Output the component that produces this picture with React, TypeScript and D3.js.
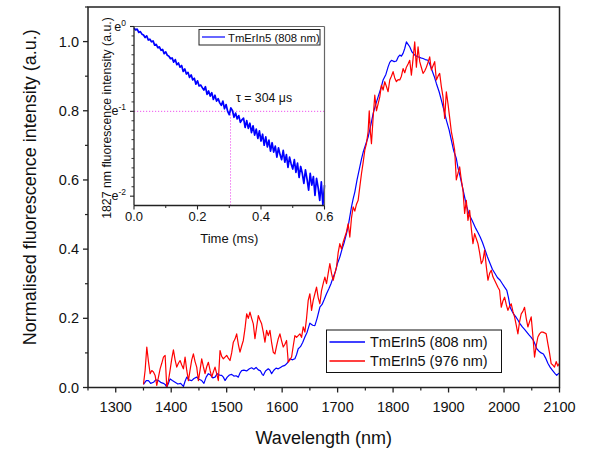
import React from "react";
import * as d3 from "d3";

// ---------- data ----------
const wl808: number[] = [1350,1355,1359,1363,1368,1372,1377,1382,1386,1389,1392,1395,1398,1402,1407,1412,1417,1422,1425,1428,1432,1437,1441,1446,1450,1455,1459,1463,1467,1471,1475,1479,1483,1487,1491,1494,1497,1501,1505,1509,1513,1517,1521,1524,1527,1531,1536,1541,1545,1549,1553,1557,1561,1564,1566,1570,1575,1578,1581,1585,1589,1593,1597,1601,1605,1609,1614,1618,1623,1626,1629,1633,1637,1641,1645,1650,1655,1659,1663,1668,1672,1676,1680,1684,1688,1692,1696,1700,1704,1708,1712,1716,1720,1725,1728,1731,1735,1740,1743,1746,1750,1755,1760,1764,1768,1773,1778,1782,1787,1791,1794,1797,1802,1806,1809,1812,1815,1818,1821,1824,1827,1830,1834,1839,1842,1845,1850,1854,1858,1863,1866,1869,1874,1878,1883,1887,1892,1896,1901,1905,1909,1914,1917,1921,1925,1929,1933,1937,1941,1945,1949,1953,1957,1961,1966,1970,1975,1979,1984,1988,1993,1997,2001,2005,2008,2011,2014,2017,2021,2025,2029,2033,2037,2041,2045,2049,2053,2056,2059,2063,2067,2071,2075,2079,2083,2087,2092,2095,2098,2100];
const int808: number[] = [0.009,0.02,0.02,0.012,0.015,0.022,0.02,0.014,0.012,0.009,0.001,0.012,0.025,0.02,0.015,0.01,0.012,0.003,0.018,0.03,0.022,0.02,0.026,0.03,0.024,0.02,0.012,0.03,0.04,0.036,0.028,0.03,0.04,0.036,0.035,0.03,0.02,0.03,0.036,0.038,0.033,0.034,0.03,0.042,0.049,0.05,0.048,0.054,0.057,0.053,0.058,0.051,0.048,0.038,0.035,0.048,0.054,0.05,0.04,0.05,0.056,0.054,0.058,0.062,0.064,0.07,0.083,0.08,0.083,0.095,0.112,0.118,0.13,0.146,0.16,0.186,0.18,0.179,0.2,0.232,0.24,0.255,0.271,0.285,0.3,0.319,0.335,0.36,0.377,0.4,0.42,0.445,0.475,0.522,0.545,0.565,0.6,0.638,0.66,0.68,0.7,0.724,0.76,0.792,0.815,0.84,0.865,0.889,0.905,0.927,0.94,0.946,0.942,0.944,0.955,0.961,0.958,0.966,0.98,0.999,0.992,0.985,0.97,0.961,0.958,0.956,0.953,0.951,0.948,0.946,0.935,0.922,0.9,0.879,0.855,0.831,0.8,0.773,0.745,0.715,0.686,0.662,0.635,0.609,0.58,0.55,0.522,0.5,0.488,0.474,0.46,0.448,0.435,0.42,0.397,0.378,0.358,0.342,0.329,0.318,0.31,0.3,0.29,0.281,0.26,0.232,0.222,0.213,0.205,0.195,0.184,0.175,0.168,0.16,0.152,0.145,0.136,0.125,0.112,0.105,0.1,0.097,0.085,0.07,0.059,0.05,0.04,0.035,0.04,0.042];

const wl976: number[] = [1350,1353,1356,1359,1362,1365,1368,1371,1374,1377,1380,1383,1386,1389,1392,1395,1398,1401,1404,1407,1410,1413,1416,1419,1422,1425,1428,1431,1434,1437,1440,1443,1446,1449,1452,1455,1458,1461,1464,1467,1470,1473,1476,1479,1482,1485,1488,1491,1494,1497,1500,1503,1506,1509,1512,1515,1518,1521,1524,1527,1530,1533,1536,1539,1542,1545,1548,1551,1554,1557,1560,1563,1566,1569,1572,1575,1578,1581,1584,1587,1590,1593,1596,1599,1602,1605,1608,1611,1614,1617,1620,1623,1626,1629,1632,1635,1638,1641,1644,1647,1650,1653,1656,1659,1662,1665,1668,1671,1674,1677,1680,1683,1686,1689,1692,1695,1698,1701,1704,1707,1710,1713,1716,1719,1722,1725,1728,1731,1734,1737,1740,1743,1746,1749,1752,1755,1757,1759,1761,1764,1767,1770,1773,1776,1779,1782,1785,1788,1791,1794,1797,1800,1803,1806,1809,1812,1815,1818,1821,1824,1827,1830,1833,1836,1839,1842,1845,1848,1851,1854,1857,1860,1863,1866,1869,1872,1875,1878,1881,1884,1887,1890,1893,1896,1899,1902,1905,1908,1911,1914,1917,1920,1923,1926,1929,1932,1935,1938,1941,1944,1947,1950,1953,1956,1959,1962,1965,1968,1971,1974,1977,1980,1983,1986,1989,1992,1995,1998,2001,2004,2007,2010,2013,2016,2019,2022,2025,2028,2031,2034,2037,2040,2043,2046,2049,2052,2055,2058,2061,2064,2067,2070,2073,2076,2079,2082,2085,2088,2091,2094,2097,2100];
const int976: number[] = [0.009,0.05,0.117,0.075,0.04,0.049,0.045,0.035,0.006,0.03,0.054,0.07,0.088,0.093,0.001,0.02,0.05,0.083,0.109,0.08,0.059,0.07,0.078,0.065,0.054,0.088,0.05,0.02,0.05,0.08,0.097,0.075,0.059,0.02,0.05,0.083,0.06,0.04,0.06,0.073,0.05,0.03,0.045,0.059,0.04,0.02,0.107,0.09,0.083,0.088,0.093,0.085,0.078,0.1,0.131,0.14,0.155,0.125,0.102,0.12,0.136,0.17,0.213,0.2,0.218,0.2,0.184,0.141,0.175,0.208,0.195,0.184,0.16,0.131,0.165,0.15,0.165,0.13,0.102,0.097,0.12,0.141,0.155,0.135,0.117,0.125,0.136,0.073,0.08,0.088,0.12,0.15,0.145,0.15,0.155,0.145,0.175,0.16,0.2,0.252,0.271,0.223,0.252,0.271,0.29,0.26,0.242,0.28,0.3,0.319,0.3,0.33,0.358,0.33,0.31,0.33,0.348,0.39,0.416,0.4,0.42,0.435,0.45,0.474,0.435,0.49,0.522,0.51,0.53,0.541,0.58,0.618,0.65,0.686,0.705,0.74,0.8,0.74,0.705,0.78,0.845,0.8,0.82,0.84,0.874,0.86,0.884,0.87,0.855,0.889,0.9,0.913,0.895,0.884,0.89,0.889,0.9,0.922,0.91,0.926,0.935,0.946,0.903,0.95,0.999,0.926,0.985,0.942,0.925,0.908,0.915,0.926,0.94,0.956,0.918,0.93,0.942,0.889,0.9,0.908,0.87,0.84,0.778,0.855,0.82,0.78,0.74,0.715,0.686,0.6,0.62,0.638,0.6,0.57,0.503,0.541,0.483,0.512,0.46,0.416,0.445,0.43,0.416,0.39,0.358,0.368,0.397,0.35,0.31,0.33,0.339,0.32,0.31,0.3,0.29,0.281,0.232,0.25,0.261,0.24,0.223,0.235,0.242,0.22,0.204,0.18,0.155,0.19,0.213,0.22,0.232,0.2,0.175,0.19,0.204,0.15,0.088,0.12,0.146,0.155,0.16,0.16,0.158,0.155,0.127,0.1,0.069,0.065,0.059,0.075,0.062,0.07];

// inset decay: time (ms) and natural log of normalised intensity
const decayT: number[] = [0,0.005,0.01,0.015,0.02,0.025,0.03,0.035,0.04,0.045,0.05,0.055,0.06,0.065,0.07,0.075,0.08,0.085,0.09,0.095,0.1,0.105,0.11,0.115,0.12,0.125,0.13,0.135,0.14,0.145,0.15,0.155,0.16,0.165,0.17,0.175,0.18,0.185,0.19,0.195,0.2,0.205,0.21,0.215,0.22,0.225,0.23,0.235,0.24,0.245,0.25,0.255,0.26,0.265,0.27,0.275,0.28,0.285,0.29,0.295,0.3,0.305,0.31,0.315,0.32,0.325,0.33,0.335,0.34,0.345,0.35,0.355,0.36,0.365,0.37,0.375,0.38,0.385,0.39,0.395,0.4,0.405,0.41,0.415,0.42,0.425,0.43,0.435,0.44,0.445,0.45,0.455,0.46,0.465,0.47,0.475,0.48,0.485,0.49,0.495,0.5,0.505,0.51,0.515,0.52,0.525,0.53,0.535,0.54,0.545,0.55,0.555,0.56,0.565,0.57,0.575,0.58,0.585,0.59,0.595,0.6];
const decayLn: number[] = [-0.02,-0.04,-0.03,-0.07,-0.06,-0.09,-0.1,-0.13,-0.11,-0.16,-0.15,-0.18,-0.17,-0.22,-0.21,-0.25,-0.24,-0.28,-0.27,-0.32,-0.3,-0.34,-0.35,-0.38,-0.37,-0.42,-0.39,-0.45,-0.43,-0.48,-0.46,-0.53,-0.5,-0.56,-0.54,-0.6,-0.57,-0.63,-0.61,-0.68,-0.64,-0.7,-0.69,-0.72,-0.75,-0.71,-0.8,-0.76,-0.82,-0.78,-0.86,-0.81,-0.88,-0.85,-0.9,-0.93,-0.88,-0.97,-0.92,-1.0,-1.04,-0.96,-0.99,-1.07,-1.02,-1.09,-1.05,-1.13,-1.1,-1.08,-1.19,-1.11,-1.2,-1.14,-1.25,-1.17,-1.28,-1.21,-1.32,-1.23,-1.35,-1.27,-1.4,-1.3,-1.42,-1.34,-1.47,-1.37,-1.48,-1.41,-1.54,-1.43,-1.51,-1.57,-1.46,-1.6,-1.51,-1.66,-1.54,-1.62,-1.68,-1.57,-1.72,-1.61,-1.78,-1.65,-1.73,-1.85,-1.69,-1.8,-1.93,-1.73,-1.87,-1.77,-1.99,-1.79,-1.9,-2.05,-1.83,-2.11,-1.87];

const xTicks: number[] = [1300,1400,1500,1600,1700,1800,1900,2000,2100];
const yTicks: number[] = [0,0.2,0.4,0.6,0.8,1.0];
const insetXTicks: number[] = [0,0.2,0.4,0.6];
const insetYTicks: number[] = [0,-1,-2];
const tau = 0.304;
const seriesNames = ["TmErIn5 (808 nm)", "TmErIn5 (976 nm)"];

const FONT = "Arial, 'Liberation Sans', Helvetica, sans-serif";

export default function App() {
  const W = 589, H = 451;
  const L = 88, R = 559.5, T = 7, B = 387.5;
  const x = d3.scaleLinear().domain([1250, 2100]).range([L, R]);
  const y = d3.scaleLinear().domain([0, 1.1]).range([B, T]);

  const line = d3.line<[number, number]>().x(d => x(d[0])).y(d => y(d[1]));
  const blue = line(wl808.map((w, i) => [w, int808[i]]) as [number, number][]) || "";
  const red = line(wl976.map((w, i) => [w, int976[i]]) as [number, number][]) || "";

  // inset
  const iL = 134, iR = 324.5, iT = 26.5, iB = 205.5;
  const ix = d3.scaleLinear().domain([0, 0.6]).range([iL, iR]);
  const iy = d3.scaleLinear().domain([-2.11, 0]).range([iB, iT]);
  const iline = d3.line<[number, number]>().x(d => ix(d[0])).y(d => iy(d[1]));
  const decay = iline(decayT.map((t, i) => [t, decayLn[i]]) as [number, number][]) || "";

  const xMinor = d3.range(1250, 2101, 50).filter(v => v % 100 !== 0);
  const yMinor = d3.range(0.1, 1.11, 0.2);
  const ixMinor = [0.1, 0.3, 0.5];
  const iyMinor = d3.range(0, 2.11, 1 / 9).map(v => -v).filter(v => Math.abs(v - Math.round(v)) > 0.01);

  const axisColor = "#222";

  return (
    <div style={{ position: "absolute", left: 0, top: 0 }}>
      <svg width={W} height={H} style={{ display: "block", background: "#fff" }} fontFamily={FONT}>
        <rect x={0} y={0} width={W} height={H} fill="#fff" />
        {/* data */}
        <path d={blue} fill="none" stroke="#0000ff" strokeWidth={1.2} strokeLinejoin="round" />
        <path d={red} fill="none" stroke="#ff0000" strokeWidth={1.2} strokeLinejoin="round" />

        {/* frame */}
        <rect x={L} y={T} width={R - L} height={B - T} fill="none" stroke={axisColor} strokeWidth={1.5} />

        {/* x ticks */}
        {xTicks.map(v => (
          <g key={"xt" + v}>
            <line x1={x(v)} x2={x(v)} y1={B} y2={B + 5} stroke={axisColor} strokeWidth={1.3} />
            <text x={x(v)} y={412} textAnchor="middle" fontSize={14.5} fill="#111">{v}</text>
          </g>
        ))}
        {xMinor.map(v => (
          <line key={"xm" + v} x1={x(v)} x2={x(v)} y1={B} y2={B + 3} stroke={axisColor} strokeWidth={1.2} />
        ))}
        {/* y ticks */}
        {yTicks.map(v => (
          <g key={"yt" + v}>
            <line x1={L - 5} x2={L} y1={y(v)} y2={y(v)} stroke={axisColor} strokeWidth={1.3} />
            <text x={79} y={y(v) + 5} textAnchor="end" fontSize={14.5} fill="#111">{v.toFixed(1)}</text>
          </g>
        ))}
        {yMinor.map(v => (
          <line key={"ym" + v} x1={L - 3} x2={L} y1={y(v)} y2={y(v)} stroke={axisColor} strokeWidth={1.2} />
        ))}

        {/* axis titles */}
        <text x={(L + R) / 2} y={444} textAnchor="middle" fontSize={18} fill="#111">Wavelength (nm)</text>
        <text transform={`translate(36,${(T + B) / 2 - 10}) rotate(-90)`} textAnchor="middle" fontSize={18} fill="#111">
          Normalised fluorescence intensity (a.u.)
        </text>

        {/* main legend */}
        <rect x={326.5} y={330} width={175} height={42.5} fill="#fff" stroke="#111" strokeWidth={1} />
        <line x1={329.5} x2={365} y1={342} y2={342} stroke="#0000ff" strokeWidth={1.3} />
        <text x={370} y={346.5} fontSize={14.5} fill="#111">{seriesNames[0]}</text>
        <line x1={329.5} x2={365} y1={361} y2={361} stroke="#ff0000" strokeWidth={1.3} />
        <text x={370} y={366} fontSize={14.5} fill="#111">{seriesNames[1]}</text>

        {/* inset */}
        <rect x={iL} y={iT} width={iR - iL} height={iB - iT} fill="#fff" stroke="none" />
        <line x1={iL} x2={iR} y1={iy(-1)} y2={iy(-1)} stroke="#ee55ee" strokeWidth={1} strokeDasharray="1.2,1.8" />
        <line x1={ix(tau)} x2={ix(tau)} y1={iy(-1)} y2={iB} stroke="#ee55ee" strokeWidth={1} strokeDasharray="1.2,1.8" />
        <path d={decay} fill="none" stroke="#0000ff" strokeWidth={1.7} strokeLinejoin="round" />
        <line x1={iL} x2={iR} y1={iT} y2={iT} stroke="#666" strokeWidth={1} />
        <line x1={iR} x2={iR} y1={iT} y2={iB} stroke="#666" strokeWidth={1.2} />
        <line x1={iL} x2={iL} y1={iT} y2={iB} stroke={axisColor} strokeWidth={1.3} />
        <line x1={iL} x2={iR} y1={iB} y2={iB} stroke={axisColor} strokeWidth={1.3} />
        {insetXTicks.map(v => (
          <g key={"ixt" + v}>
            <line x1={ix(v)} x2={ix(v)} y1={iB} y2={iB + 4} stroke={axisColor} strokeWidth={1.1} />
            <text x={ix(v)} y={221} textAnchor="middle" fontSize={13} fill="#111">{v.toFixed(1)}</text>
          </g>
        ))}
        {ixMinor.map(v => (
          <line key={"ixm" + v} x1={ix(v)} x2={ix(v)} y1={iB} y2={iB + 2.5} stroke={axisColor} strokeWidth={1} />
        ))}
        {insetYTicks.map(v => (
          <g key={"iyt" + v}>
            <line x1={iL - 4} x2={iL} y1={iy(v)} y2={iy(v)} stroke={axisColor} strokeWidth={1.1} />
            <text x={126} y={iy(v) + 4} textAnchor="end" fontSize={12.5} fill="#111">
              e<tspan dy={-5} fontSize={8.5}>{v}</tspan>
            </text>
          </g>
        ))}
        {iyMinor.map(v => (
          <line key={"iym" + v} x1={iL - 2.5} x2={iL} y1={iy(v)} y2={iy(v)} stroke={axisColor} strokeWidth={0.9} />
        ))}
        <text x={(iL + iR) / 2} y={243} textAnchor="middle" fontSize={13} fill="#111">Time (ms)</text>
        <text transform={`translate(111,118) rotate(-90)`} textAnchor="middle" fontSize={12.3} fill="#111">
          1827 nm fluorescence intensity (a.u.)
        </text>
        <text x={236} y={102} fontSize={12.3} fill="#111">τ = 304 μs</text>

        {/* inset legend */}
        <rect x={199} y={29.5} width={121} height={15.5} fill="#fff" stroke="#222" strokeWidth={1} />
        <line x1={202} x2={225} y1={37} y2={37} stroke="#0000ff" strokeWidth={1.2} />
        <text x={228} y={41.5} fontSize={11.3} fill="#111">{seriesNames[0]}</text>
      </svg>
    </div>
  );
}
